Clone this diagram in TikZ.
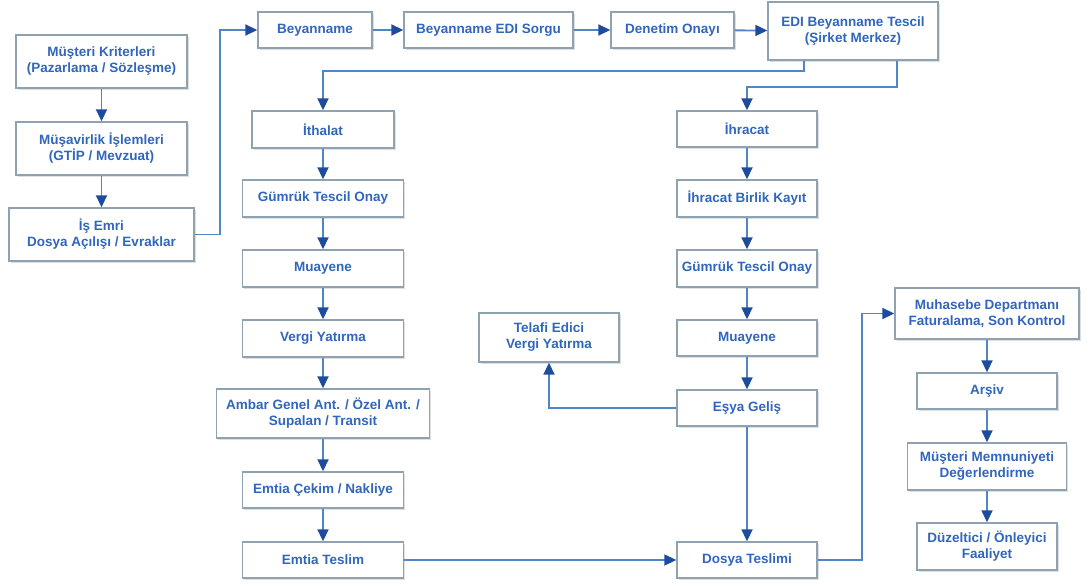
\documentclass[tikz,border=0pt]{standalone}
\usepackage{fontspec}
\setmainfont{Liberation Sans}
\usetikzlibrary{arrows.meta,shadows}
\definecolor{textblue}{HTML}{3066BC}
\definecolor{lineblue}{HTML}{4F86C8}
\definecolor{tipblue}{HTML}{1D4C9C}
\definecolor{framegray}{HTML}{8FA2B2}
\tikzset{stage/.style={draw=framegray,line width=1.4pt,fill=white,align=center,inner sep=2pt,text=textblue,font=\bfseries\fontsize{13.5}{16}\selectfont,drop shadow={shadow xshift=1.5pt,shadow yshift=-2pt,opacity=.25}},
flow/.style={->,line width=1.8pt,color=lineblue}}

\begin{document}
\begin{tikzpicture}[x=1pt,y=-1pt,>={Triangle[length=12pt,width=11pt,color=tipblue]}]
\useasboundingbox (0,0) rectangle (1090,586);
\node[stage,minimum width=171,minimum height=53] (musteri) at (101.5,61.5) {Müşteri Kriterleri\\(Pazarlama / Sözleşme)};
\node[stage,minimum width=171,minimum height=53] (musavir) at (101.5,148.5) {Müşavirlik İşlemleri\\(GTİP / Mevzuat)};
\node[stage,minimum width=185,minimum height=53] (isemri) at (101.5,234.5) {İş Emri\\Dosya Açılışı / Evraklar};
\node[stage,minimum width=114,minimum height=36] (beyan) at (315,30) {Beyanname};
\node[stage,minimum width=169,minimum height=36] (edisorgu) at (488.5,30) {Beyanname EDI Sorgu};
\node[stage,minimum width=123,minimum height=36] (denetim) at (672.5,30) {Denetim Onayı};
\node[stage,minimum width=170,minimum height=58] (tescil) at (853,31) {EDI Beyanname Tescil\\(Şirket Merkez)};
\node[stage,minimum width=142,minimum height=37] (ithalat) at (323,129.5) {İthalat};
\node[stage,minimum width=161,minimum height=37] (gumruki) at (323,198.5) {Gümrük Tescil Onay};
\node[stage,minimum width=161,minimum height=37] (muayenei) at (323,268.5) {Muayene};
\node[stage,minimum width=161,minimum height=37] (vergi) at (323,338.5) {Vergi Yatırma};
\node[stage,minimum width=213,minimum height=49] (ambar) at (323,413.5) {Ambar Genel Ant. / Özel Ant. /\\Supalan / Transit};
\node[stage,minimum width=161,minimum height=36] (cekim) at (323,490) {Emtia Çekim / Nakliye};
\node[stage,minimum width=161,minimum height=36] (emtia) at (323,560) {Emtia Teslim};
\node[stage,minimum width=140,minimum height=36] (ihracat) at (747,129) {İhracat};
\node[stage,minimum width=140,minimum height=37] (birlik) at (747,198.5) {İhracat Birlik Kayıt};
\node[stage,minimum width=140,minimum height=37] (gumrukh) at (747,268.5) {Gümrük Tescil Onay};
\node[stage,minimum width=140,minimum height=36] (muayeneh) at (747,338) {Muayene};
\node[stage,minimum width=140,minimum height=36] (esya) at (747,408) {Eşya Geliş};
\node[stage,minimum width=140,minimum height=36] (dosya) at (747,560) {Dosya Teslimi};
\node[stage,minimum width=140,minimum height=49] (telafi) at (549,337.5) {Telafi Edici\\Vergi Yatırma};
\node[stage,minimum width=184,minimum height=51] (muhasebe) at (987,313.5) {Muhasebe Departmanı\\Faturalama, Son Kontrol};
\node[stage,minimum width=140,minimum height=36] (arsiv) at (987,391) {Arşiv};
\node[stage,minimum width=159,minimum height=47] (memnun) at (987,466.5) {Müşteri Memnuniyeti\\Değerlendirme};
\node[stage,minimum width=140,minimum height=47] (duzeltici) at (987,546.5) {Düzeltici / Önleyici\\Faaliyet};
\foreach \a/\b in {musteri/musavir,musavir/isemri,beyan/edisorgu,edisorgu/denetim,denetim/tescil,ithalat/gumruki,gumruki/muayenei,muayenei/vergi,vergi/ambar,ambar/cekim,cekim/emtia,ihracat/birlik,birlik/gumrukh,gumrukh/muayeneh,muayeneh/esya,esya/dosya,muhasebe/arsiv,arsiv/memnun,memnun/duzeltici,emtia/dosya}{\draw[flow] (\a) -- (\b);}
\draw[flow] (isemri.east) -- ++(25,0) |- (beyan.west);
\draw[flow] ([xshift=-49pt]tescil.south) -- ++(0,10) -| (ithalat.north);
\draw[flow] ([xshift=44pt]tescil.south) -- ++(0,26) -| (ihracat.north);
\draw[flow] (esya.west) -| (telafi.south);
\draw[flow] (dosya.east) -- ++(44,0) |- (muhasebe.west);
\end{tikzpicture}
\end{document}
